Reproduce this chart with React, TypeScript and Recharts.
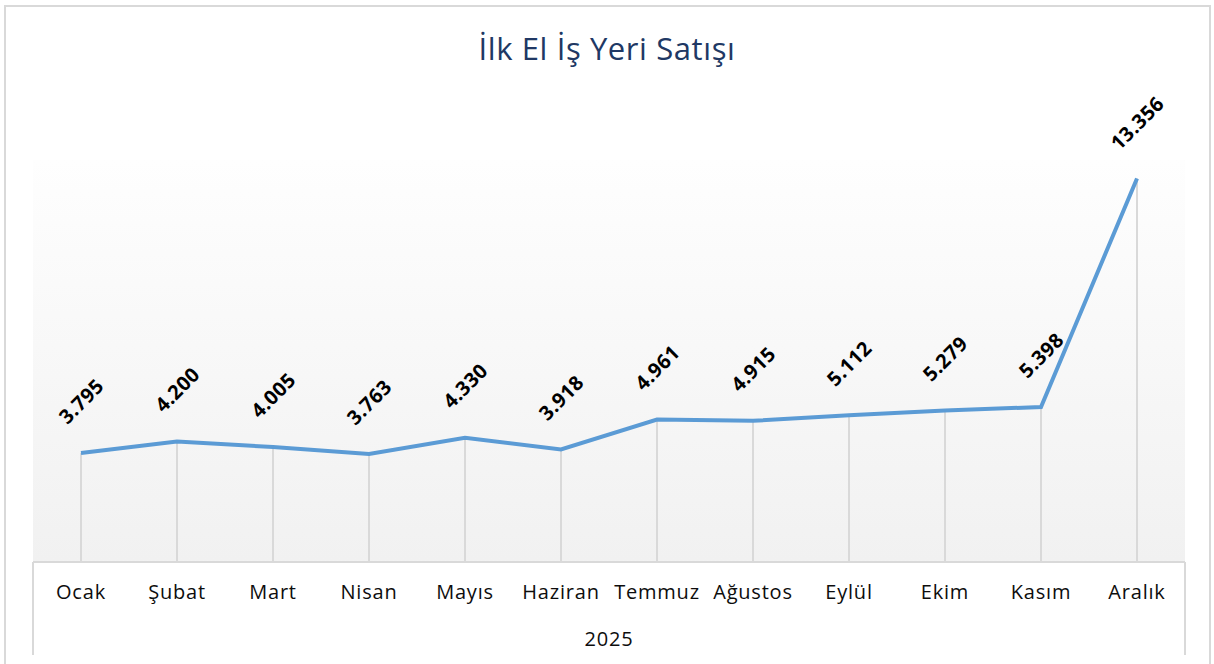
import { LineChart, Line, XAxis, YAxis, CartesianGrid, ReferenceLine, LabelList, Label } from 'recharts';

const months = ['Ocak', 'Şubat', 'Mart', 'Nisan', 'Mayıs', 'Haziran', 'Temmuz', 'Ağustos', 'Eylül', 'Ekim', 'Kasım', 'Aralık'];
const sales = [3795, 4200, 4005, 3763, 4330, 3918, 4961, 4915, 5112, 5279, 5398, 13356];
const yearLabel = '2025';
const title = 'İlk El İş Yeri Satışı';

const data = months.map((m, i) => ({ month: m, value: sales[i] }));

const FONT = '"Open Sans", "Noto Sans", sans-serif';
const HALF_BAND = 48;

const fmt = (v: number) => String(v).replace(/\B(?=(\d{3})+(?!\d))/g, '.');

function ValueLabel(props: any) {
    const { x, y, value } = props;
    const text = fmt(Number(value));
    const off = 34 + text.length * 3.6;
    return (
        <text
            x={x}
            y={y - off}
            transform={`rotate(-45 ${x} ${y - off})`}
            textAnchor="middle"
            dominantBaseline="central"
            fontFamily={FONT}
            fontWeight={700}
            fontSize={20}
            letterSpacing={0.4}
            fill="#000"
        >
            {text}
        </text>
    );
}

function MonthTick(props: any) {
    const { x, y, payload, index } = props;
    return (
        <g>
            {index === 0 && <line x1={x - HALF_BAND} y1={y - 8} x2={x - HALF_BAND} y2={y + 85} stroke="#d9d9d9" strokeWidth={2} />}
            {index === months.length - 1 && <line x1={x + HALF_BAND} y1={y - 8} x2={x + HALF_BAND} y2={y + 85} stroke="#d9d9d9" strokeWidth={2} />}
            <text x={x} y={y + 29} textAnchor="middle" fontFamily={FONT} fontSize={20} letterSpacing={0.8} fill="#0d0d0d">
                {payload.value}
            </text>
        </g>
    );
}

export default function App() {
    return (
        <div style={{ position: 'absolute', left: 0, top: 0, width: 1214, height: 664, background: '#fff', overflow: 'hidden' }}>
            <div
                style={{
                    position: 'absolute', left: 4, top: 5, width: 1207, height: 700,
                    border: '2px solid #d9d9d9', boxSizing: 'border-box'
                }}
            />
            <div
                style={{
                    position: 'absolute', left: 0, top: 27, width: 1214, textAlign: 'center',
                    fontFamily: FONT, fontSize: 31, letterSpacing: 0.6, color: '#203864'
                }}
            >
                {title}
            </div>
            <div style={{ position: 'absolute', left: 0, top: 0 }}>
                <LineChart width={1214} height={664} data={data} margin={{ top: 160, right: 29, left: 33, bottom: 0 }}>
                    <defs>
                        <linearGradient id="plotBg" x1="0" y1="0" x2="0" y2="1">
                            <stop offset="0%" stopColor="#fefefe" />
                            <stop offset="100%" stopColor="#f1f1f1" />
                        </linearGradient>
                    </defs>
                    <CartesianGrid horizontal={false} vertical={false} fill="url(#plotBg)" stroke="none" />
                    <XAxis
                        dataKey="month"
                        height={102}
                        padding={{ left: HALF_BAND, right: HALF_BAND }}
                        axisLine={{ stroke: '#d9d9d9', strokeWidth: 2 }}
                        tickLine={false}
                        tick={<MonthTick />}
                        interval={0}
                    >
                        <Label value={yearLabel} position="insideBottom" offset={18} fontFamily={FONT} fontSize={20} letterSpacing={0.8} fill="#0d0d0d" />
                    </XAxis>
                    <YAxis hide domain={[0, 14000]} />
                    {data.map(d => (
                        <ReferenceLine
                            key={d.month}
                            segment={[{ x: d.month, y: 0 }, { x: d.month, y: d.value }]}
                            stroke="#d9d9d9"
                            strokeWidth={2}
                        />
                    ))}
                    <Line
                        type="linear"
                        dataKey="value"
                        stroke="#5b9bd5"
                        strokeWidth={4}
                        dot={false}
                        activeDot={false}
                        isAnimationActive={false}
                    >
                        <LabelList dataKey="value" content={<ValueLabel />} />
                    </Line>
                </LineChart>
            </div>
        </div>
    );
}
